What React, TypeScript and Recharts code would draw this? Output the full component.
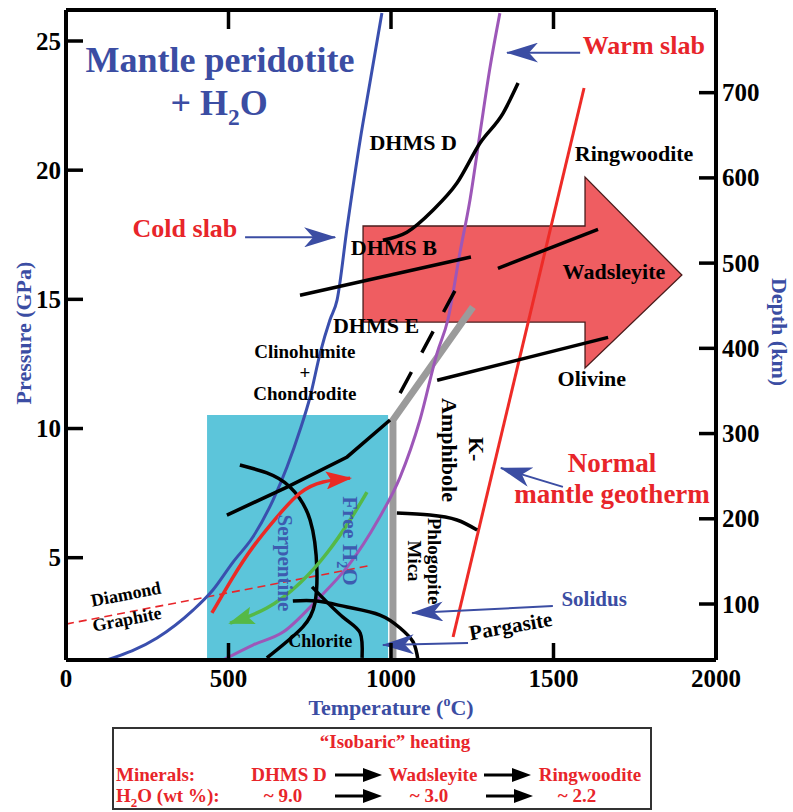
import React from 'react'
import { ComposedChart, Line, Area, XAxis, YAxis, ReferenceDot } from 'recharts'

const SERIF = '"Liberation Serif", "Times New Roman", serif'
const BLUE = '#3b4da3'
const RED = '#e8252a'

const tempTicks = [0, 500, 1000, 1500, 2000]
const topTicks = [500, 1000, 1500]
const pressureTicks = [5, 10, 15, 20, 25]
const depthTicks = [100, 200, 300, 400, 500, 600, 700]
const pressureDomain = [1.04, 26.2]
const depthDomain = [34.3, 797]

// T in °C, P in GPa
const coldSlab = [
  { t: 126, p: 1.04 }, { t: 280, p: 1.89 }, { t: 391, p: 2.97 }, { t: 452, p: 3.75 },
  { t: 514, p: 4.83 }, { t: 575, p: 5.8 }, { t: 637, p: 7.23 }, { t: 680, p: 8.51 },
  { t: 720, p: 9.94 }, { t: 751, p: 11.22 }, { t: 782, p: 12.92 }, { t: 812, p: 14.2 },
  { t: 834, p: 14.97 }, { t: 865, p: 17.79 }, { t: 905, p: 21.16 }, { t: 935, p: 23.37 },
  { t: 972, p: 26.08 },
]
const warmSlab = [
  { t: 483, p: 1.04 }, { t: 575, p: 1.62 }, { t: 668, p: 2.12 }, { t: 772, p: 3.36 },
  { t: 868, p: 4.68 }, { t: 960, p: 6.46 }, { t: 1028, p: 8.12 }, { t: 1089, p: 10.33 },
  { t: 1142, p: 12.93 }, { t: 1175, p: 14.21 }, { t: 1212, p: 16.8 }, { t: 1243, p: 18.85 },
  { t: 1274, p: 21.44 }, { t: 1305, p: 24.0 }, { t: 1335, p: 26.08 },
]
const normalGeotherm = [{ t: 1191, p: 1.93 }, { t: 1594, p: 23.18 }]
const solidus = [{ t: 1006, p: 1.04 }, { t: 1006, p: 10.33 }, { t: 1252, p: 14.7 }]

const dhmsD = [
  { t: 975, p: 17.29 }, { t: 1049, p: 17.6 }, { t: 1129, p: 18.45 }, { t: 1203, p: 19.5 },
  { t: 1274, p: 21.05 }, { t: 1345, p: 22.21 }, { t: 1391, p: 23.37 },
]
const dhmsB = [{ t: 720, p: 15.16 }, { t: 1246, p: 16.64 }]
const wadsRing = [{ t: 1329, p: 16.2 }, { t: 1637, p: 17.71 }]
const olivWads = [{ t: 1142, p: 11.87 }, { t: 1668, p: 13.53 }]
const dhmsE = [{ t: 1028, p: 11.37 }, { t: 1206, p: 15.55 }]
const clinohumite = [{ t: 495, p: 6.65 }, { t: 680, p: 7.73 }, { t: 865, p: 8.9 }, { t: 997, p: 10.33 }]
const serpentineOut = [
  { t: 535, p: 8.59 }, { t: 618, p: 8.28 }, { t: 689, p: 7.74 }, { t: 751, p: 6.46 },
  { t: 772, p: 4.52 }, { t: 766, p: 3.25 }, { t: 729, p: 2.32 }, { t: 618, p: 1.12 },
]
const chloriteOut = [
  { t: 698, p: 3.32 }, { t: 772, p: 3.32 }, { t: 865, p: 3.09 }, { t: 966, p: 2.78 },
  { t: 1028, p: 2.28 }, { t: 1068, p: 1.74 }, { t: 1083, p: 1.04 },
]
const chloriteIn = [{ t: 757, p: 3.87 }, { t: 852, p: 2.7 }, { t: 905, p: 2.09 }, { t: 911, p: 1.12 }]
const phlogopite = [{ t: 1018, p: 6.73 }, { t: 1120, p: 6.65 }, { t: 1203, p: 6.46 }, { t: 1265, p: 6.07 }]
const diamondGraphite = [{ t: 0, p: 2.43 }, { t: 929, p: 4.68 }]

const slabPath = [
  { t: 449, p: 2.86 }, { t: 514, p: 4.25 }, { t: 575, p: 5.41 }, { t: 649, p: 6.57 },
  { t: 720, p: 7.5 }, { t: 791, p: 7.93 }, { t: 874, p: 8.08 },
]
const waterPath = [
  { t: 926, p: 7.54 }, { t: 874, p: 6.46 }, { t: 803, p: 5.18 }, { t: 720, p: 4.02 },
  { t: 618, p: 3.05 }, { t: 505, p: 2.47 },
]

const hydrousField = [{ t: 434, r: [1.04, 10.52] }, { t: 991, r: [1.04, 10.52] }]
const heatingArrow = [
  { t: 914, r: [14.12, 17.84] }, { t: 1597, r: [14.12, 17.84] },
  { t: 1597, r: [12.34, 19.73] }, { t: 1895, r: [15.94, 15.94] },
]
const heatingOutline = [
  { t: 914, p: 14.12 }, { t: 914, p: 17.84 }, { t: 1597, p: 17.84 }, { t: 1597, p: 19.73 },
  { t: 1895, p: 15.94 }, { t: 1597, p: 12.34 }, { t: 1597, p: 14.12 }, { t: 914, p: 14.12 },
]

const pointers = [
  [{ t: 551, p: 17.4 }, { t: 828, p: 17.4 }],
  [{ t: 1582, p: 24.55 }, { t: 1357, p: 24.55 }],
  [{ t: 1529, p: 7.74 }, { t: 1338, p: 8.47 }],
  [{ t: 1498, p: 3.13 }, { t: 1065, p: 2.86 }],
  [{ t: 1237, p: 1.7 }, { t: 975, p: 1.62 }],
]

type Note = { t: number; p: number; text: string; size: number; color?: string; rotate?: number }
const notes: Note[] = [
  { t: 474, p: 23.79, text: 'Mantle peridotite', size: 36, color: BLUE },
  { t: 471, p: 22.12, text: '+ H_2O', size: 36, color: BLUE },
  { t: 366, p: 17.4, text: 'Cold slab', size: 26, color: RED },
  { t: 1778, p: 24.49, text: 'Warm slab', size: 26, color: RED },
  { t: 1680, p: 8.32, text: 'Normal', size: 27, color: RED },
  { t: 1680, p: 7.12, text: 'mantle geotherm', size: 27, color: RED },
  { t: 1625, p: 3.13, text: 'Solidus', size: 21, color: BLUE },
  { t: 1372, p: 2.09, text: 'Pargasite', size: 21, rotate: -10 },
  { t: 1068, p: 20.77, text: 'DHMS D', size: 22 },
  { t: 1009, p: 16.71, text: 'DHMS B', size: 22 },
  { t: 954, p: 13.7, text: 'DHMS E', size: 22 },
  { t: 1748, p: 20.35, text: 'Ringwoodite', size: 22 },
  { t: 1686, p: 15.78, text: 'Wadsleyite', size: 22 },
  { t: 1618, p: 11.64, text: 'Olivine', size: 22 },
  { t: 735, p: 12.73, text: 'Clinohumite', size: 19 },
  { t: 735, p: 11.92, text: '+', size: 19 },
  { t: 735, p: 11.1, text: 'Chondrodite', size: 19 },
  { t: 1240, p: 9.2, text: 'K-', size: 22, rotate: 90 },
  { t: 1157, p: 9.17, text: 'Amphibole', size: 22, rotate: 90 },
  { t: 1114, p: 4.87, text: 'Phlogopite', size: 19, rotate: 90 },
  { t: 1052, p: 4.87, text: 'Mica', size: 19, rotate: 90 },
  { t: 652, p: 4.8, text: 'Serpentine', size: 21, color: '#3d5cb0', rotate: 90 },
  { t: 852, p: 5.65, text: 'Free H_2O', size: 22, color: '#3d5cb0', rotate: 90 },
  { t: 782, p: 1.54, text: 'Chlorite', size: 18 },
  { t: 188, p: 3.36, text: 'Diamond', size: 18, rotate: -11 },
  { t: 191, p: 2.39, text: 'Graphite', size: 18, rotate: -11 },
]

// "+ H_2O" -> H with subscript 2
function withSubs(text: string, size: number) {
  const parts = text.split(/_(\d)/)
  const sub = Math.round(size * 0.28)
  return parts.map((s, i) =>
    i % 2 === 1 ? (
      <tspan key={i} dy={sub} fontSize={size * 0.65}>{s}</tspan>
    ) : (
      <tspan key={i} dy={i > 0 ? -sub : 0}>{s}</tspan>
    )
  )
}

const noteShape = (n: Note) => (props: any) => {
  const { cx, cy } = props
  return (
    <text
      x={cx}
      y={cy}
      dy={n.size * 0.33}
      textAnchor="middle"
      fontFamily={SERIF}
      fontWeight="bold"
      fontSize={n.size}
      fill={n.color || '#000'}
      transform={n.rotate ? `rotate(${n.rotate} ${cx} ${cy})` : undefined}
    >
      {withSubs(n.text, n.size)}
    </text>
  )
}

const tickText = { fontFamily: SERIF, fontWeight: 'bold' as const, fontSize: 25, fill: '#000' }

const BottomTick = ({ x, y, payload }: any) => (
  <g>
    <line x1={x} x2={x} y1={y} y2={y - 17} stroke="#000" strokeWidth={3.5} />
    <text x={x} y={y + 27} textAnchor="middle" {...tickText}>{payload.value}</text>
  </g>
)
const TopTick = ({ x, y }: any) => (
  <line x1={x} x2={x} y1={y} y2={y + 19} stroke="#000" strokeWidth={3.5} />
)
const LeftTick = ({ x, y, payload }: any) => (
  <g>
    <line x1={x} x2={x + 17} y1={y} y2={y} stroke="#000" strokeWidth={3.5} />
    <text x={x - 5} y={y + 8.5} textAnchor="end" {...tickText}>{payload.value}</text>
  </g>
)
const RightTick = ({ x, y, payload }: any) => (
  <g>
    <line x1={x} x2={x - 17} y1={y} y2={y} stroke="#000" strokeWidth={3.5} />
    <text x={x + 6} y={y + 8.5} textAnchor="start" {...tickText}>{payload.value}</text>
  </g>
)

const titleText = { fontFamily: SERIF, fontWeight: 'bold' as const, fontSize: 22, fill: BLUE }

export default function App() {
  const lineProps = { dataKey: 'p', dot: false, activeDot: false, isAnimationActive: false, type: 'linear' as const }
  return (
    <div style={{ position: 'absolute', left: 0, top: 0, width: 793, height: 812, background: '#fff' }}>
      <ComposedChart width={793} height={720} margin={{ top: 0, right: 0, bottom: 0, left: 0 }}>
        <defs>
          <marker id="ptr" markerUnits="userSpaceOnUse" markerWidth={32} markerHeight={20} refX={31} refY={10} orient="auto">
            <path d="M0,0 L32,10 L0,20 L9,10 Z" fill={BLUE} />
          </marker>
          <marker id="headRed" markerUnits="userSpaceOnUse" markerWidth={26} markerHeight={18} refX={24} refY={9} orient="auto">
            <path d="M0,0 L26,9 L0,18 L5,9 Z" fill="#ea2a25" />
          </marker>
          <marker id="headGreen" markerUnits="userSpaceOnUse" markerWidth={26} markerHeight={18} refX={24} refY={9} orient="auto">
            <path d="M0,0 L26,9 L0,18 L5,9 Z" fill="#55b947" />
          </marker>
        </defs>
        <XAxis
          dataKey="t"
          type="number"
          domain={[0, 2000]}
          ticks={tempTicks}
          interval={0}
          allowDataOverflow
          height={60}
          axisLine={{ stroke: '#000', strokeWidth: 4 }}
          tickLine={false}
          tickSize={0}
          tickMargin={0}
          tick={BottomTick}
          label={(props: any) => {
            const vb = props.viewBox
            return (
              <text x={vb.x + vb.width / 2} y={vb.y + 55} textAnchor="middle" {...titleText}>
                Temperature (<tspan dy={-9} fontSize={14}>o</tspan><tspan dy={9}>C)</tspan>
              </text>
            )
          }}
        />
        <XAxis
          xAxisId="top"
          orientation="top"
          dataKey="t"
          type="number"
          domain={[0, 2000]}
          ticks={topTicks}
          interval={0}
          allowDataOverflow
          height={10}
          axisLine={{ stroke: '#000', strokeWidth: 4 }}
          tickLine={false}
          tickSize={0}
          tickMargin={0}
          tick={TopTick}
        />
        <YAxis
          type="number"
          domain={pressureDomain}
          ticks={pressureTicks}
          interval={0}
          allowDataOverflow
          width={66}
          axisLine={{ stroke: '#000', strokeWidth: 4 }}
          tickLine={false}
          tickSize={0}
          tickMargin={0}
          tick={LeftTick}
          label={(props: any) => {
            const vb = props.viewBox
            const cx = 24
            const cy = vb.y + vb.height / 2 - 2
            return (
              <text x={cx} y={cy} dy={7} textAnchor="middle" transform={`rotate(-90 ${cx} ${cy})`} {...titleText}>
                Pressure (GPa)
              </text>
            )
          }}
        />
        <YAxis
          yAxisId="depth"
          orientation="right"
          type="number"
          domain={depthDomain}
          ticks={depthTicks}
          interval={0}
          allowDataOverflow
          width={77}
          axisLine={{ stroke: '#000', strokeWidth: 4 }}
          tickLine={false}
          tickSize={0}
          tickMargin={0}
          tick={RightTick}
          label={(props: any) => {
            const vb = props.viewBox
            const cx = 779
            const cy = vb.y + vb.height / 2 - 3
            return (
              <text x={cx} y={cy} dy={7} textAnchor="middle" transform={`rotate(90 ${cx} ${cy})`} {...titleText}>
                Depth (km)
              </text>
            )
          }}
        />

        <Area data={hydrousField} dataKey="r" type="linear" stroke="none" fill="#5cc5da" fillOpacity={1} isAnimationActive={false} activeDot={false} />
        <Area data={heatingArrow} dataKey="r" type="linear" stroke="none" fill="#ef5d61" fillOpacity={1} isAnimationActive={false} activeDot={false} />
        <Line {...lineProps} data={heatingOutline} stroke="#4a1c1c" strokeWidth={1.3} />

        <Line {...lineProps} data={diamondGraphite} stroke="#e8252a" strokeWidth={1.6} strokeDasharray="8 5" />
        <Line {...lineProps} data={solidus} stroke="#9b9b9b" strokeWidth={7} />
        <Line {...lineProps} data={coldSlab} type="monotone" stroke="#3a4fae" strokeWidth={3} />
        <Line {...lineProps} data={warmSlab} type="monotone" stroke="#9d57b8" strokeWidth={3} />
        <Line {...lineProps} data={normalGeotherm} stroke="#ee2b27" strokeWidth={3} />

        <Line {...lineProps} data={dhmsD} type="monotone" stroke="#000" strokeWidth={3.5} />
        <Line {...lineProps} data={dhmsB} stroke="#000" strokeWidth={3.5} />
        <Line {...lineProps} data={wadsRing} stroke="#000" strokeWidth={3.5} />
        <Line {...lineProps} data={olivWads} stroke="#000" strokeWidth={3.5} />
        <Line {...lineProps} data={dhmsE} stroke="#000" strokeWidth={3.5} strokeDasharray="24 22" />
        <Line {...lineProps} data={clinohumite} stroke="#000" strokeWidth={3.5} />
        <Line {...lineProps} data={serpentineOut} type="natural" stroke="#000" strokeWidth={3.5} />
        <Line {...lineProps} data={chloriteOut} type="natural" stroke="#000" strokeWidth={3.5} />
        <Line {...lineProps} data={chloriteIn} type="natural" stroke="#000" strokeWidth={3.5} />
        <Line {...lineProps} data={phlogopite} type="natural" stroke="#000" strokeWidth={3.5} />

        <Line {...lineProps} data={slabPath} type="natural" stroke="#ea2a25" strokeWidth={3.5} markerEnd="url(#headRed)" />
        <Line {...lineProps} data={waterPath} type="natural" stroke="#55b947" strokeWidth={3.5} markerEnd="url(#headGreen)" />

        {pointers.map((d, i) => (
          <Line key={`ptr${i}`} {...lineProps} data={d} stroke={BLUE} strokeWidth={2} markerEnd="url(#ptr)" />
        ))}

        {notes.map((n, i) => (
          <ReferenceDot key={`n${i}`} x={n.t} y={n.p} r={0} shape={noteShape(n)} />
        ))}
      </ComposedChart>

      <svg width={793} height={812} style={{ position: 'absolute', left: 0, top: 0, pointerEvents: 'none' }}>
        <rect x={113} y={728} width={538} height={81} fill="#fff" stroke="#333" strokeWidth={2} />
        <g fontFamily={SERIF} fontWeight="bold" fontSize={19} fill={RED}>
          <text x={395} y={748} textAnchor="middle">“Isobaric” heating</text>
          <text x={116} y={781}>Minerals:</text>
          <text x={289} y={781} textAnchor="middle">DHMS D</text>
          <text x={433} y={781} textAnchor="middle">Wadsleyite</text>
          <text x={590} y={781} textAnchor="middle">Ringwoodite</text>
          <text x={116} y={802}>H<tspan dy={5} fontSize={13}>2</tspan><tspan dy={-5}>O (wt %):</tspan></text>
          <text x={283} y={802} textAnchor="middle">~ 9.0</text>
          <text x={429} y={802} textAnchor="middle">~ 3.0</text>
          <text x={577} y={802} textAnchor="middle">~ 2.2</text>
        </g>
        {[[335, 775], [484, 775], [335, 796], [486, 796]].map(([x, y], i) => (
          <g key={i}>
            <line x1={x} x2={x + 32} y1={y} y2={y} stroke="#000" strokeWidth={3} />
            <path d={`M${x + 28},${y - 7} L${x + 47},${y} L${x + 28},${y + 7} Z`} fill="#000" />
          </g>
        ))}
      </svg>
    </div>
  )
}
